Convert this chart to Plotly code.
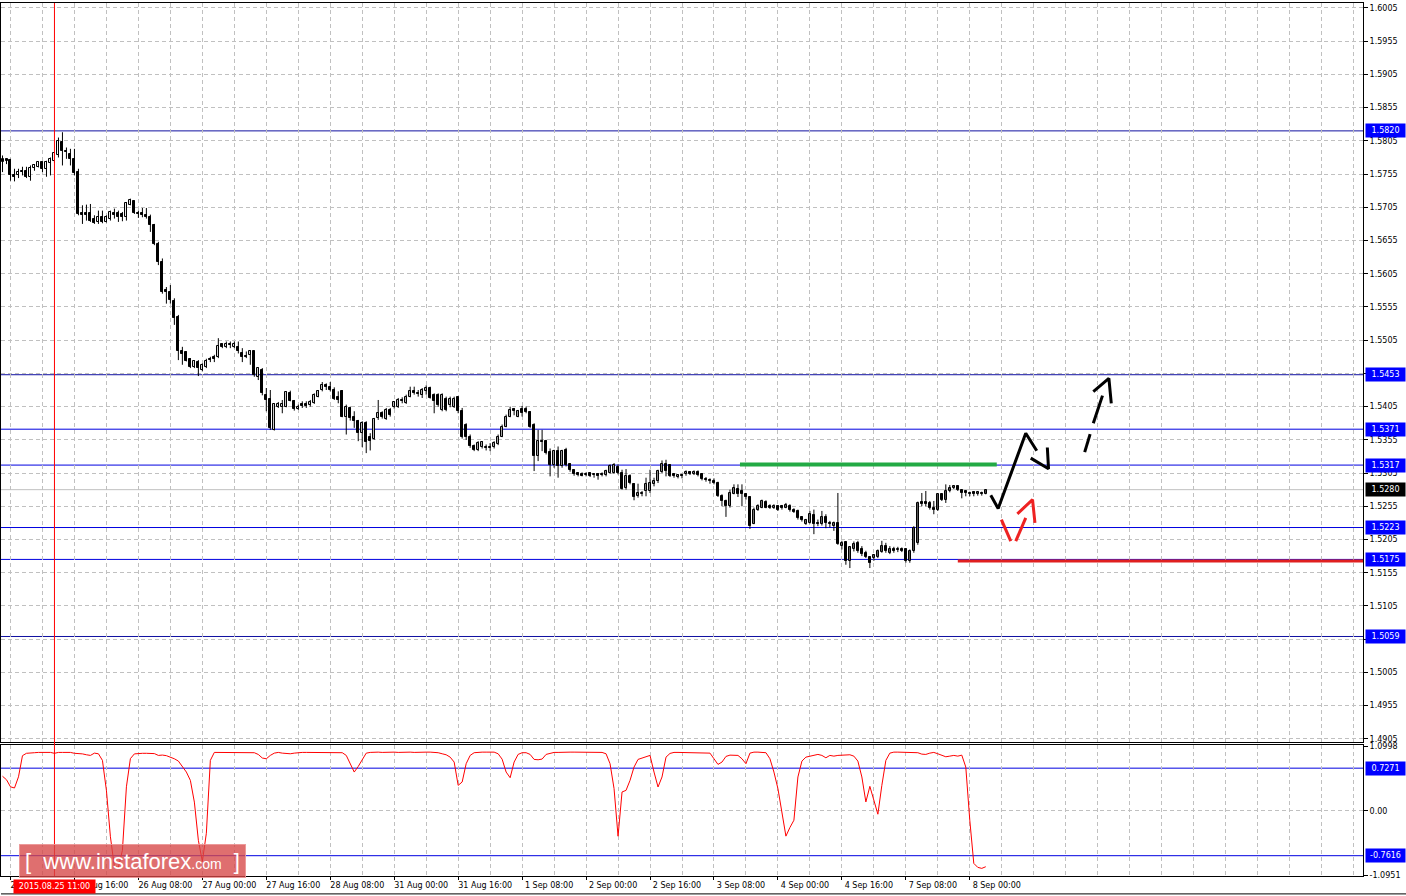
import plotly.graph_objects as go

# ---- GBP/USD H1 candles, bar index 0 = 25 Aug 00:00 (first visible bar is -2) ----
bar_idx = list(range(-2, 245))

opens = [
    1.5773, 1.5777, 1.5776, 1.5754, 1.5753, 1.5760, 1.5759, 1.5751, 1.5764, 1.5766,
    1.5773, 1.5763, 1.5771, 1.5774, 1.5783, 1.5804, 1.5790, 1.5785, 1.5778, 1.5758,
    1.5696, 1.5696, 1.5696, 1.5688, 1.5683, 1.5690, 1.5683, 1.5688, 1.5696, 1.5696,
    1.5695, 1.5691, 1.5709, 1.5714, 1.5696, 1.5696, 1.5693, 1.5690, 1.5678, 1.5650,
    1.5623, 1.5580, 1.5577, 1.5564, 1.5540, 1.5489, 1.5487, 1.5476, 1.5464, 1.5472,
    1.5460, 1.5465, 1.5477, 1.5480, 1.5480, 1.5499, 1.5494, 1.5499, 1.5495, 1.5495,
    1.5486, 1.5481, 1.5482, 1.5488, 1.5450, 1.5460, 1.5422, 1.5417, 1.5370, 1.5405,
    1.5405, 1.5405, 1.5425, 1.5413, 1.5402, 1.5409, 1.5409, 1.5408, 1.5410, 1.5420,
    1.5430, 1.5437, 1.5435, 1.5430, 1.5419, 1.5428, 1.5389, 1.5403, 1.5389, 1.5383,
    1.5365, 1.5381, 1.5360, 1.5356, 1.5388, 1.5395, 1.5387, 1.5400, 1.5405, 1.5404,
    1.5415, 1.5410, 1.5420, 1.5428, 1.5426, 1.5423, 1.5428, 1.5433, 1.5423, 1.5423,
    1.5400, 1.5417, 1.5408, 1.5405, 1.5419, 1.5398, 1.5378, 1.5360, 1.5345, 1.5339,
    1.5344, 1.5344, 1.5344, 1.5344, 1.5348, 1.5360, 1.5375, 1.5390, 1.5401, 1.5390,
    1.5401, 1.5402, 1.5397, 1.5377, 1.5330, 1.5354, 1.5353, 1.5337, 1.5317, 1.5338,
    1.5315, 1.5339, 1.5318, 1.5309, 1.5305, 1.5304, 1.5302, 1.5305, 1.5302, 1.5303,
    1.5304, 1.5302, 1.5305, 1.5305, 1.5314, 1.5305, 1.5283, 1.5300, 1.5289, 1.5270,
    1.5273, 1.5278, 1.5278, 1.5288, 1.5293, 1.5307, 1.5319, 1.5317, 1.5303, 1.5299,
    1.5302, 1.5303, 1.5306, 1.5303, 1.5307, 1.5304, 1.5296, 1.5295, 1.5293, 1.5290,
    1.5270, 1.5263, 1.5255, 1.5274, 1.5281, 1.5278, 1.5273, 1.5269, 1.5229, 1.5250,
    1.5253, 1.5262, 1.5256, 1.5253, 1.5255, 1.5255, 1.5253, 1.5255, 1.5250, 1.5248,
    1.5239, 1.5229, 1.5230, 1.5242, 1.5230, 1.5228, 1.5239, 1.5230, 1.5225, 1.5230,
    1.5195, 1.5201, 1.5172, 1.5190, 1.5200, 1.5190, 1.5185, 1.5178, 1.5177, 1.5178,
    1.5186, 1.5195, 1.5185, 1.5191, 1.5189, 1.5191, 1.5190, 1.5172, 1.5188, 1.5199,
    1.5262, 1.5262, 1.5260, 1.5253, 1.5250, 1.5273, 1.5265, 1.5278, 1.5282, 1.5285,
    1.5279, 1.5278, 1.5275, 1.5276, 1.5273, 1.5275, 1.5274,
]
highs = [
    1.5783, 1.5779, 1.5778, 1.5763, 1.5763, 1.5766, 1.5766, 1.5768, 1.5770, 1.5774,
    1.5774, 1.5775, 1.5780, 1.5788, 1.5810, 1.5818, 1.5795, 1.5793, 1.5793, 1.5763,
    1.5708, 1.5709, 1.5710, 1.5693, 1.5700, 1.5700, 1.5693, 1.5700, 1.5703, 1.5700,
    1.5698, 1.5713, 1.5718, 1.5715, 1.5700, 1.5704, 1.5704, 1.5694, 1.5680, 1.5653,
    1.5628, 1.5585, 1.5588, 1.5568, 1.5543, 1.5495, 1.5488, 1.5478, 1.5475, 1.5475,
    1.5470, 1.5477, 1.5480, 1.5483, 1.5508, 1.5500, 1.5503, 1.5503, 1.5503, 1.5503,
    1.5493, 1.5488, 1.5490, 1.5489, 1.5464, 1.5463, 1.5433, 1.5430, 1.5410, 1.5412,
    1.5415, 1.5428, 1.5429, 1.5415, 1.5408, 1.5413, 1.5413, 1.5415, 1.5425, 1.5430,
    1.5442, 1.5440, 1.5442, 1.5434, 1.5428, 1.5430, 1.5408, 1.5405, 1.5398, 1.5385,
    1.5383, 1.5383, 1.5365, 1.5388, 1.5415, 1.5398, 1.5403, 1.5403, 1.5413, 1.5418,
    1.5419, 1.5423, 1.5435, 1.5435, 1.5430, 1.5433, 1.5437, 1.5435, 1.5425, 1.5425,
    1.5425, 1.5420, 1.5420, 1.5420, 1.5420, 1.5403, 1.5380, 1.5363, 1.5348, 1.5353,
    1.5353, 1.5348, 1.5350, 1.5353, 1.5363, 1.5378, 1.5393, 1.5405, 1.5403, 1.5400,
    1.5406, 1.5405, 1.5398, 1.5380, 1.5370, 1.5370, 1.5355, 1.5342, 1.5340, 1.5345,
    1.5340, 1.5343, 1.5320, 1.5310, 1.5306, 1.5306, 1.5306, 1.5306, 1.5305, 1.5305,
    1.5306, 1.5310, 1.5318, 1.5320, 1.5318, 1.5310, 1.5311, 1.5303, 1.5290, 1.5289,
    1.5278, 1.5298, 1.5310, 1.5298, 1.5310, 1.5324, 1.5325, 1.5318, 1.5305, 1.5303,
    1.5304, 1.5309, 1.5308, 1.5309, 1.5309, 1.5305, 1.5299, 1.5297, 1.5297, 1.5292,
    1.5273, 1.5265, 1.5280, 1.5288, 1.5288, 1.5288, 1.5275, 1.5270, 1.5253, 1.5258,
    1.5265, 1.5264, 1.5258, 1.5258, 1.5257, 1.5257, 1.5260, 1.5258, 1.5252, 1.5250,
    1.5240, 1.5236, 1.5248, 1.5250, 1.5235, 1.5248, 1.5243, 1.5233, 1.5232, 1.5275,
    1.5203, 1.5202, 1.5195, 1.5202, 1.5203, 1.5195, 1.5188, 1.5180, 1.5183, 1.5190,
    1.5203, 1.5200, 1.5195, 1.5194, 1.5194, 1.5193, 1.5192, 1.5190, 1.5225, 1.5262,
    1.5275, 1.5278, 1.5263, 1.5263, 1.5274, 1.5274, 1.5288, 1.5287, 1.5287, 1.5286,
    1.5280, 1.5278, 1.5277, 1.5278, 1.5278, 1.5277, 1.5281,
]
lows = [
    1.5758, 1.5770, 1.5745, 1.5744, 1.5749, 1.5753, 1.5749, 1.5745, 1.5760, 1.5765,
    1.5758, 1.5751, 1.5753, 1.5772, 1.5780, 1.5768, 1.5778, 1.5768, 1.5753, 1.5693,
    1.5680, 1.5685, 1.5683, 1.5680, 1.5680, 1.5681, 1.5682, 1.5685, 1.5688, 1.5683,
    1.5684, 1.5685, 1.5708, 1.5695, 1.5689, 1.5690, 1.5688, 1.5668, 1.5648, 1.5618,
    1.5575, 1.5560, 1.5560, 1.5528, 1.5475, 1.5468, 1.5473, 1.5463, 1.5463, 1.5451,
    1.5458, 1.5463, 1.5472, 1.5472, 1.5478, 1.5493, 1.5493, 1.5493, 1.5493, 1.5485,
    1.5472, 1.5478, 1.5468, 1.5450, 1.5445, 1.5422, 1.5398, 1.5370, 1.5369, 1.5403,
    1.5395, 1.5404, 1.5413, 1.5399, 1.5400, 1.5403, 1.5403, 1.5405, 1.5409, 1.5419,
    1.5428, 1.5430, 1.5428, 1.5415, 1.5410, 1.5389, 1.5363, 1.5384, 1.5373, 1.5353,
    1.5344, 1.5335, 1.5339, 1.5355, 1.5385, 1.5387, 1.5385, 1.5390, 1.5402, 1.5403,
    1.5410, 1.5409, 1.5419, 1.5423, 1.5420, 1.5418, 1.5423, 1.5417, 1.5395, 1.5405,
    1.5398, 1.5398, 1.5404, 1.5403, 1.5395, 1.5357, 1.5355, 1.5343, 1.5338, 1.5338,
    1.5342, 1.5339, 1.5338, 1.5342, 1.5347, 1.5359, 1.5374, 1.5389, 1.5392, 1.5389,
    1.5390, 1.5395, 1.5373, 1.5308, 1.5323, 1.5338, 1.5333, 1.5300, 1.5313, 1.5298,
    1.5313, 1.5315, 1.5307, 1.5301, 1.5300, 1.5300, 1.5300, 1.5299, 1.5298, 1.5295,
    1.5300, 1.5300, 1.5304, 1.5304, 1.5303, 1.5280, 1.5280, 1.5288, 1.5264, 1.5268,
    1.5270, 1.5270, 1.5275, 1.5285, 1.5290, 1.5305, 1.5300, 1.5299, 1.5298, 1.5297,
    1.5297, 1.5301, 1.5302, 1.5302, 1.5300, 1.5294, 1.5292, 1.5289, 1.5288, 1.5269,
    1.5255, 1.5239, 1.5253, 1.5273, 1.5269, 1.5255, 1.5265, 1.5221, 1.5228, 1.5248,
    1.5252, 1.5252, 1.5251, 1.5251, 1.5248, 1.5250, 1.5252, 1.5247, 1.5245, 1.5235,
    1.5232, 1.5227, 1.5229, 1.5213, 1.5225, 1.5226, 1.5222, 1.5223, 1.5218, 1.5197,
    1.5190, 1.5167, 1.5162, 1.5187, 1.5185, 1.5180, 1.5177, 1.5162, 1.5173, 1.5177,
    1.5185, 1.5185, 1.5183, 1.5185, 1.5186, 1.5186, 1.5170, 1.5170, 1.5185, 1.5197,
    1.5255, 1.5255, 1.5250, 1.5243, 1.5248, 1.5263, 1.5260, 1.5276, 1.5281, 1.5278,
    1.5267, 1.5270, 1.5270, 1.5270, 1.5271, 1.5271, 1.5273,
]
closes = [
    1.5778, 1.5774, 1.5753, 1.5751, 1.5758, 1.5758, 1.5750, 1.5764, 1.5769, 1.5773,
    1.5763, 1.5773, 1.5777, 1.5786, 1.5805, 1.5790, 1.5788, 1.5778, 1.5756, 1.5695,
    1.5694, 1.5694, 1.5685, 1.5681, 1.5690, 1.5683, 1.5690, 1.5698, 1.5693, 1.5690,
    1.5690, 1.5711, 1.5716, 1.5696, 1.5695, 1.5693, 1.5691, 1.5678, 1.5650, 1.5623,
    1.5578, 1.5578, 1.5565, 1.5538, 1.5488, 1.5484, 1.5474, 1.5464, 1.5473, 1.5463,
    1.5468, 1.5473, 1.5475, 1.5477, 1.5496, 1.5495, 1.5500, 1.5497, 1.5500, 1.5488,
    1.5480, 1.5479, 1.5489, 1.5453, 1.5463, 1.5425, 1.5415, 1.5373, 1.5409, 1.5409,
    1.5409, 1.5427, 1.5414, 1.5401, 1.5405, 1.5406, 1.5406, 1.5412, 1.5422, 1.5428,
    1.5438, 1.5434, 1.5430, 1.5417, 1.5415, 1.5390, 1.5404, 1.5388, 1.5383, 1.5365,
    1.5380, 1.5351, 1.5353, 1.5386, 1.5395, 1.5390, 1.5400, 1.5392, 1.5412, 1.5415,
    1.5413, 1.5420, 1.5428, 1.5425, 1.5424, 1.5430, 1.5433, 1.5418, 1.5414, 1.5408,
    1.5423, 1.5400, 1.5417, 1.5417, 1.5398, 1.5360, 1.5360, 1.5345, 1.5340, 1.5350,
    1.5351, 1.5342, 1.5342, 1.5350, 1.5360, 1.5375, 1.5390, 1.5400, 1.5398, 1.5398,
    1.5395, 1.5397, 1.5375, 1.5330, 1.5353, 1.5352, 1.5335, 1.5317, 1.5338, 1.5315,
    1.5338, 1.5317, 1.5309, 1.5303, 1.5302, 1.5301, 1.5304, 1.5301, 1.5304, 1.5301,
    1.5302, 1.5308, 1.5315, 1.5317, 1.5305, 1.5281, 1.5300, 1.5290, 1.5269, 1.5275,
    1.5275, 1.5288, 1.5290, 1.5293, 1.5308, 1.5319, 1.5308, 1.5300, 1.5300, 1.5302,
    1.5300, 1.5307, 1.5304, 1.5307, 1.5302, 1.5296, 1.5294, 1.5293, 1.5290, 1.5270,
    1.5263, 1.5255, 1.5275, 1.5283, 1.5274, 1.5273, 1.5269, 1.5225, 1.5250, 1.5255,
    1.5263, 1.5253, 1.5253, 1.5256, 1.5250, 1.5253, 1.5257, 1.5250, 1.5247, 1.5238,
    1.5234, 1.5234, 1.5244, 1.5229, 1.5228, 1.5239, 1.5230, 1.5228, 1.5230, 1.5198,
    1.5200, 1.5172, 1.5193, 1.5198, 1.5188, 1.5183, 1.5178, 1.5170, 1.5181, 1.5188,
    1.5195, 1.5188, 1.5191, 1.5188, 1.5191, 1.5188, 1.5172, 1.5188, 1.5222, 1.5260,
    1.5258, 1.5258, 1.5253, 1.5250, 1.5273, 1.5265, 1.5278, 1.5283, 1.5286, 1.5280,
    1.5275, 1.5275, 1.5273, 1.5273, 1.5276, 1.5273, 1.5280,
]

# oscillator in the lower window
osc = [
    0.59, 0.53, 0.41, 0.39, 0.58, 0.94, 0.98, 0.99, 0.99, 0.995,
    0.995, 0.99, 0.995, 0.98, 0.995, 0.995, 0.995, 0.995, 0.98, 0.978,
    0.97, 0.955, 0.944, 0.983, 0.972, 0.86, 0.35, -0.44, -0.95, -0.96,
    -0.67, 0.41, 0.89, 0.97, 0.98, 0.98, 0.98, 0.98, 0.975, 0.944,
    0.95, 0.94, 0.915, 0.887, 0.848, 0.757, 0.661, 0.52, 0.15, -0.5,
    -0.86, -0.38, 0.86, 0.995, 0.995, 1.0, 1.0, 1.0, 0.995, 0.995,
    1.0, 1.0, 0.99, 0.99, 0.96, 0.90, 0.887, 0.944, 0.983, 0.995,
    0.983, 0.972, 0.972, 0.983, 0.995, 0.995, 0.995, 0.995, 1.0, 1.0,
    1.0, 1.0, 1.0, 1.0, 1.0, 0.99, 0.944, 0.803, 0.661, 0.757,
    0.87, 0.983, 0.995, 1.0, 1.0, 0.995, 1.0, 1.0, 1.0, 0.995,
    1.0, 1.0, 1.0, 0.995, 1.0, 1.0, 1.0, 1.0, 0.995, 0.99,
    0.972, 0.955, 0.915, 0.831, 0.435, 0.492, 0.803, 0.944, 0.99, 1.0,
    1.0, 1.0, 1.0, 1.0, 0.972, 0.88, 0.661, 0.565, 0.831, 0.961,
    0.99, 0.99, 0.961, 0.876, 0.87, 0.882, 0.961, 0.983, 0.995, 0.995,
    1.0, 1.0, 1.0, 1.0, 1.0, 1.0, 1.0, 1.0, 1.0, 0.995,
    0.995, 0.972, 0.803, 0.379, -0.43, 0.322, 0.35, 0.52, 0.746, 0.876,
    0.899, 0.927, 0.944, 0.661, 0.407, 0.577, 0.915, 0.978, 0.995, 0.995,
    0.995, 0.995, 0.995, 0.995, 0.995, 0.995, 0.995, 0.983, 0.887, 0.791,
    0.831, 0.927, 0.949, 0.949, 0.944, 0.887, 0.803, 0.983, 1.0, 1.0,
    1.0, 0.99, 0.887, 0.661, 0.379, -0.017, -0.429, -0.282, -0.158, 0.577,
    0.848, 0.915, 0.932, 0.949, 0.961, 0.944, 0.904, 0.944, 0.932, 0.944,
    0.949, 0.955, 0.955, 0.932, 0.848, 0.577, 0.153, 0.418, 0.17, -0.056,
    0.435, 0.859, 0.983, 1.0, 1.0, 1.0, 1.0, 1.0, 1.0, 0.99,
    0.966, 0.961, 0.983, 0.995, 0.972, 0.944, 0.921, 0.932, 0.944, 0.932,
    0.949, 0.746, -0.158, -0.892, -0.96, -0.977, -0.949,
]

# time axis labels (every 16 bars)
time_ticks = [0, 16, 32, 48, 64, 80, 96, 112, 128, 144, 160, 176, 192, 208, 224, 240]
time_labels = ["25 Aug 00:00", "25 Aug 16:00", "26 Aug 08:00", "27 Aug 00:00",
               "27 Aug 16:00", "28 Aug 08:00", "31 Aug 00:00", "31 Aug 16:00",
               "1 Sep 08:00", "2 Sep 00:00", "2 Sep 16:00", "3 Sep 08:00",
               "4 Sep 00:00", "4 Sep 16:00", "7 Sep 08:00", "8 Sep 00:00"]
price_ticks = [round(1.4905 + 0.005 * k, 4) for k in range(23)]

# horizontal levels
blue_levels = [1.5371, 1.5317, 1.5223, 1.5175]
navy_levels = [1.5820, 1.5453, 1.5059]
last_price = 1.5280
osc_levels = [0.7271, -0.7616]
osc_ticks = [1.0998, 0.0, -1.0951]
osc_tick_text = ["1.0998", "0.00", "-1.0951"]

# hand drawn forecast
green_zone = ([182.5, 246.75], 1.5318)
red_zone = ([237.0, 338.4], 1.51725)
fc_black_x = [245.25, 247.1, 254.0, 256.75, None, 255.25, 259.7, 259.4]
fc_black_y = [1.52715, 1.52515, 1.5365, 1.53385, None, 1.53275, 1.53115, 1.53435]
fc_dash_x = [268.75, 270.1, None, 270.9, 273.2, None, 270.9, 274.8, 275.4]
fc_dash_y = [1.53365, 1.53635, None, 1.5380, 1.54215, None, 1.54275, 1.54475, 1.5410]
fc_red_x = [247.9, 250.25, None, 251.5, 254.0, None, 251.9, 255.7, 256.3]
fc_red_y = [1.5235, 1.52025, None, 1.52025, 1.52375, None, 1.52435, 1.5265, 1.5230]
cursor_bar = 11
cursor_text = "2015.08.25 11:00"

FONT = "DejaVu Sans"
GRID = "#C0C0C0"
BLUE = "#0000E0"
NAVY = "#1010A0"

fig = go.Figure()

# wicks
wx, wy = [], []
for i, h, l in zip(bar_idx, highs, lows):
    wx += [i, i, None]
    wy += [l, h, None]
fig.add_trace(go.Scatter(x=wx, y=wy, mode="lines", line=dict(color="black", width=1),
                         hoverinfo="skip", xaxis="x", yaxis="y"))

# bodies
base = [min(o, c) for o, c in zip(opens, closes)]
height = [max(abs(c - o), 0.00003) for o, c in zip(opens, closes)]
fill = ["white" if c >= o else "black" for o, c in zip(opens, closes)]
fig.add_trace(go.Bar(x=bar_idx, y=height, base=base, width=0.5,
                     marker=dict(color=fill, line=dict(color="black", width=1)),
                     xaxis="x", yaxis="y"))

# oscillator
fig.add_trace(go.Scatter(x=bar_idx, y=osc, mode="lines", line=dict(color="#FF0000", width=1),
                         xaxis="x2", yaxis="y2"))

# forecast strokes
fig.add_trace(go.Scatter(x=fc_black_x, y=fc_black_y, mode="lines",
                         line=dict(color="black", width=3), xaxis="x", yaxis="y"))
fig.add_trace(go.Scatter(x=fc_dash_x, y=fc_dash_y, mode="lines",
                         line=dict(color="black", width=3), xaxis="x", yaxis="y"))
fig.add_trace(go.Scatter(x=fc_red_x, y=fc_red_y, mode="lines",
                         line=dict(color="#EE2222", width=3), xaxis="x", yaxis="y"))

shapes = []
for lv in blue_levels:
    shapes.append(dict(type="line", xref="paper", yref="y", x0=0, x1=1, y0=lv, y1=lv,
                       line=dict(color=BLUE, width=1), layer="below"))
for lv in navy_levels:
    shapes.append(dict(type="line", xref="paper", yref="y", x0=0, x1=1, y0=lv, y1=lv,
                       line=dict(color=NAVY, width=1), layer="below"))
shapes.append(dict(type="line", xref="paper", yref="y", x0=0, x1=1, y0=last_price, y1=last_price,
                   line=dict(color=GRID, width=1), layer="below"))
for lv in osc_levels:
    shapes.append(dict(type="line", xref="paper", yref="y2", x0=0, x1=1, y0=lv, y1=lv,
                       line=dict(color=BLUE, width=1), layer="below"))
shapes.append(dict(type="line", xref="x", yref="y", x0=green_zone[0][0], x1=green_zone[0][1],
                   y0=green_zone[1], y1=green_zone[1], line=dict(color="#22AA44", width=4)))
shapes.append(dict(type="line", xref="x", yref="y", x0=red_zone[0][0], x1=red_zone[0][1],
                   y0=red_zone[1], y1=red_zone[1], line=dict(color="#E02020", width=3)))
shapes.append(dict(type="line", xref="x", yref="paper", x0=cursor_bar, x1=cursor_bar, y0=0, y1=1,
                   line=dict(color="#FF0000", width=1)))
shapes.append(dict(type="line", xref="paper", yref="paper", x0=0, x1=1.04, y0=-0.0205, y1=-0.0205,
                   line=dict(color="black", width=1)))

annotations = []
for lv in navy_levels + blue_levels + [last_price]:
    annotations.append(dict(xref="paper", yref="y", x=1, y=lv, xanchor="left", xshift=2,
                            text=f"{lv:.4f}", showarrow=False, width=37, height=11,
                            bgcolor="black" if lv == last_price else "#0000FF",
                            font=dict(family=FONT, size=8, color="white")))
for lv in osc_levels:
    annotations.append(dict(xref="paper", yref="y2", x=1, y=lv, xanchor="left", xshift=2,
                            text=f"{lv:.4f}", showarrow=False, width=37, height=11,
                            bgcolor="#0000FF", font=dict(family=FONT, size=8, color="white")))
# watermark
annotations.append(dict(xref="paper", yref="paper", x=18 / 1363, y=(876 - 844) / 876,
                        xanchor="left", yanchor="top", showarrow=False, width=223, height=30,
                        bgcolor="rgba(214,70,70,0.78)", bordercolor="rgba(235,150,150,0.9)",
                        borderwidth=1,
                        text="[  www.instaforex<span style='font-size:14px'>.com</span>  ]",
                        font=dict(family="Liberation Sans", size=22, color="white")))
# cursor time label
annotations.append(dict(xref="x", yref="paper", x=cursor_bar, y=0, yanchor="top", yshift=-3,
                        showarrow=False, text=cursor_text, width=79, height=11,
                        bgcolor="#FF0000", font=dict(family=FONT, size=8, color="white")))

X0 = -2.375
X1 = X0 + 1363 / 4
tick_font = dict(family=FONT, size=8, color="black")
# 1.5055 sits under the 1.5059 level box, as in the terminal
price_text = ["" if p == 1.5055 else f"{p:.4f}" for p in price_ticks]

fig.update_layout(
    width=1406, height=896,
    margin=dict(l=0, r=43, t=0, b=20),
    paper_bgcolor="white", plot_bgcolor="white",
    showlegend=False, hovermode=False, bargap=0,
    shapes=shapes, annotations=annotations,
    xaxis=dict(domain=[0, 1], anchor="y", range=[X0, X1], tickmode="linear", tick0=0, dtick=8,
               showticklabels=False, ticks="", showgrid=True, gridcolor=GRID, griddash="4px,3px",
               gridwidth=1, zeroline=False, showline=True, mirror=True, linecolor="black"),
    xaxis2=dict(domain=[0, 1], anchor="y2", matches="x", range=[X0, X1],
                tickmode="array", tickvals=time_ticks, ticktext=time_labels,
                ticks="outside", ticklen=3, tickcolor="black", tickfont=tick_font,
                ticklabelshift=27, ticklabelstandoff=-2,
                showgrid=True, gridcolor=GRID, griddash="4px,3px",
                minor=dict(tick0=0, dtick=8, showgrid=True, gridcolor=GRID, griddash="4px,3px", ticks=""),
                zeroline=False, showline=True, mirror=True, linecolor="black"),
    yaxis=dict(domain=[(876 - 742) / 876, 1], anchor="x", side="right",
               range=[1.60125 - 742 * 0.00015, 1.60125],
               tickmode="array", tickvals=price_ticks, ticktext=price_text,
               ticks="outside", ticklen=4, tickcolor="black", tickfont=tick_font,
               showgrid=True, gridcolor=GRID, griddash="4px,3px", zeroline=False,
               showline=True, mirror=True, linecolor="black"),
    yaxis2=dict(domain=[0, (876 - 745) / 876], anchor="x2", side="right",
                range=[-1.1068, 1.1136],
                tickmode="array", tickvals=osc_ticks, ticktext=osc_tick_text,
                ticks="outside", ticklen=4, tickcolor="black", tickfont=tick_font,
                showgrid=True, gridcolor=GRID, griddash="4px,3px", zeroline=False,
                showline=True, mirror=True, linecolor="black"),
)

# the page body has a default 8px margin; drop it so the chart fills the window
fig.write_html("out.html", config={"displayModeBar": False},
               post_script="document.body.style.margin='0px';")
